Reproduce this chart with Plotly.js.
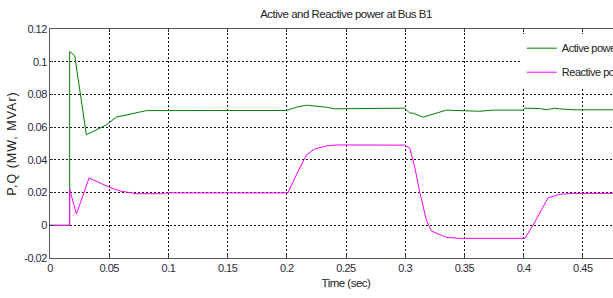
<!DOCTYPE html>
<html><head><meta charset="utf-8">
<script src="https://cdn.plot.ly/plotly-3.0.1.min.js"></script>
<style>html,body{margin:0;padding:0;overflow:hidden;background:#fff;width:613px;height:298px}#chart{width:720px;height:298px}
.main-svg text{letter-spacing:-0.5px}
.main-svg .g-ytitle text{letter-spacing:1px}</style>
</head><body><div id="chart"></div>
<script>
const activeX = [0, 0.0166, 0.0166, 0.0209, 0.0307, 0.0476, 0.056, 0.0645, 0.0814, 0.1997, 0.2081, 0.2166, 0.225, 0.2334, 0.2405, 0.263, 0.2650, 0.2996, 0.3038, 0.3066, 0.315, 0.3235, 0.3348, 0.3629, 0.374, 0.3995, 0.401, 0.4136, 0.419, 0.4263, 0.43, 0.4417, 0.5];
const activeY = [0, 0, 0.1063, 0.1036, 0.0553, 0.0614, 0.0661, 0.0675, 0.0701, 0.0702, 0.0722, 0.0734, 0.073, 0.0722, 0.0712, 0.0712, 0.0716, 0.0716, 0.0686, 0.0686, 0.0661, 0.0679, 0.0704, 0.0697, 0.0704, 0.0704, 0.0716, 0.0714, 0.0706, 0.0716, 0.0712, 0.0706, 0.0706];
const reactiveX = [0, 0.0166, 0.0166, 0.0223, 0.033, 0.042, 0.0504, 0.0589, 0.0645, 0.073, 0.0969, 0.0975, 0.201, 0.208, 0.2166, 0.2236, 0.2334, 0.2419, 0.2996, 0.3038, 0.308, 0.3122, 0.3179, 0.3221, 0.3348, 0.346, 0.401, 0.408, 0.415, 0.4206, 0.4305, 0.4417, 0.5];
const reactiveY = [0, 0, 0.022, 0.0069, 0.0289, 0.0257, 0.0232, 0.021, 0.0202, 0.0193, 0.0193, 0.0198, 0.0198, 0.0308, 0.043, 0.0467, 0.0485, 0.0491, 0.049, 0.0471, 0.0358, 0.0205, 0.0032, -0.0035, -0.0074, -0.008, -0.008, 0.0001, 0.0093, 0.0168, 0.0189, 0.0195, 0.0195];
const seriesNames = ['Active power', 'Reactive power'];
const xTickVals = [0, 0.05, 0.1, 0.15, 0.2, 0.25, 0.3, 0.35, 0.4, 0.45, 0.5];
const xTickText = ['0', '0.05', '0.1', '0.15', '0.2', '0.25', '0.3', '0.35', '0.4', '0.45', '0.5'];
const yTickVals = [-0.02, 0, 0.02, 0.04, 0.06, 0.08, 0.1, 0.12];
const yTickText = ['-0.02', '0', '0.02', '0.04', '0.06', '0.08', '0.1', '0.12'];

const FONT = '"Liberation Sans", Arial, sans-serif';
const traces = [
  {x: activeX, y: activeY, name: seriesNames[0], type: 'scatter', mode: 'lines', legend: 'legend',
   line: {color: '#008000', width: 1}},
  {x: reactiveX, y: reactiveY, name: seriesNames[1], type: 'scatter', mode: 'lines', legend: 'legend2',
   line: {color: '#ff00ff', width: 1}}
];
const axisCommon = {
  showgrid: true, gridcolor: '#111', griddash: '2px,2px', gridwidth: 1,
  showline: true, linecolor: '#555', linewidth: 1, mirror: 'ticks',
  zeroline: false, ticks: 'inside', ticklen: 3, tickcolor: '#333', tickwidth: 1,
  tickfont: {family: FONT, size: 11, color: '#2a2a3a'},
  tickmode: 'array'
};
const legendCommon = {xanchor: 'left', yanchor: 'top', bgcolor: '#fff', borderwidth: 0,
  font: {family: FONT, size: 11, color: '#222'}};
const layout = {
  width: 720, height: 298,
  margin: {l: 50, r: 78, t: 29, b: 40},
  paper_bgcolor: '#fff', plot_bgcolor: '#fff',
  font: {family: FONT, size: 11, color: '#222'},
  title: {text: 'Active and Reactive power at Bus B1', font: {family: FONT, size: 11.5, color: '#222'},
          x: 0.5, xref: 'paper', xanchor: 'center', y: 0.953, yanchor: 'middle'},
  xaxis: Object.assign({}, axisCommon, {range: [0, 0.5], tickvals: xTickVals, ticktext: xTickText,
          title: {text: 'Time (sec)', font: {family: FONT, size: 11.5, color: '#222'}, standoff: 5}}),
  yaxis: Object.assign({}, axisCommon, {range: [-0.02, 0.12], tickvals: yTickVals, ticktext: yTickText,
          title: {text: 'P,Q (MW, MVAr)', font: {family: FONT, size: 12.5, color: '#222'}, standoff: 2}}),
  showlegend: true,
  legend: Object.assign({}, legendCommon, {x: 0.797, y: 0.9795}),
  legend2: Object.assign({}, legendCommon, {x: 0.797, y: 0.8747})
};
Plotly.newPlot('chart', traces, layout, {displayModeBar: false, staticPlot: true});
</script></body></html>
